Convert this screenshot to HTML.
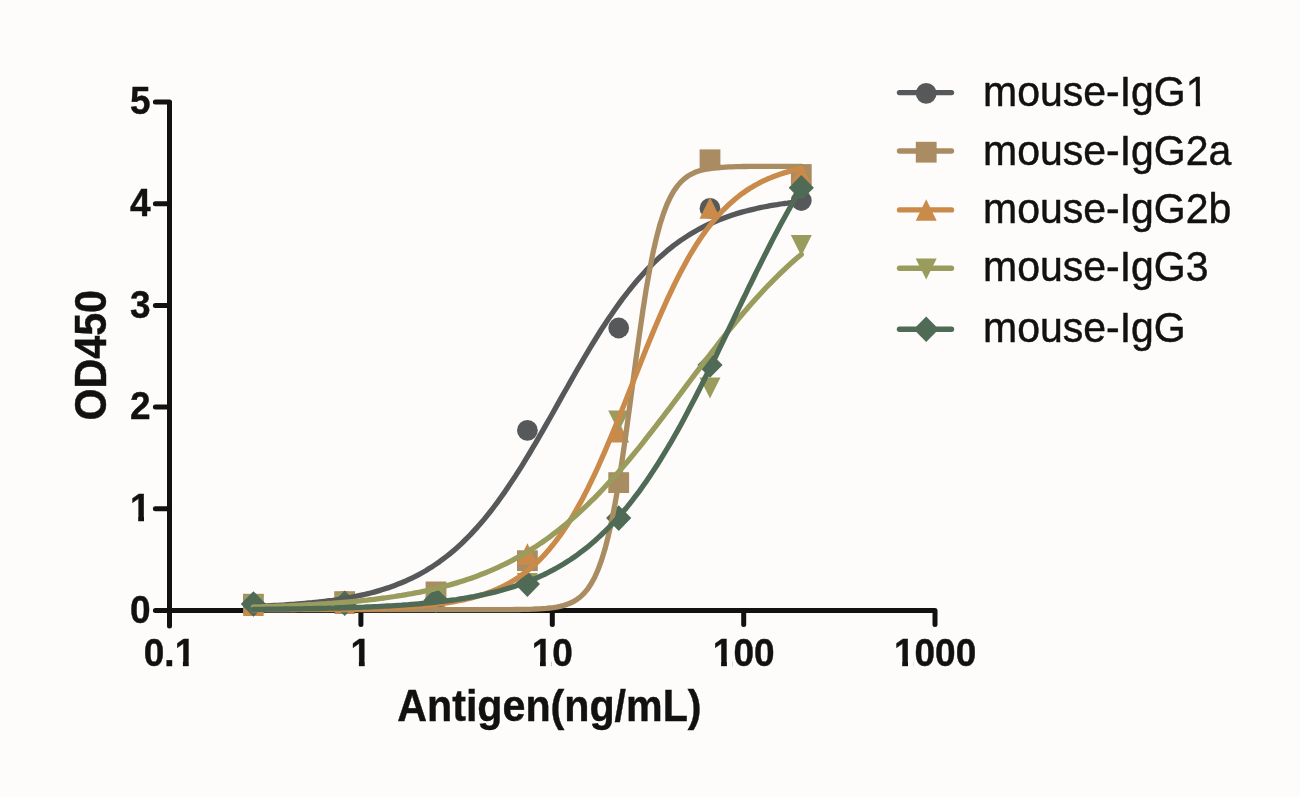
<!DOCTYPE html>
<html><head><meta charset="utf-8"><title>ELISA chart</title>
<style>
html,body{margin:0;padding:0;background:#fdfcfa;}
body{width:1300px;height:797px;overflow:hidden;}
svg{display:block;}
text{font-family:"Liberation Sans",Arial,Helvetica,sans-serif;fill:#111;}
.tk text,.ti{stroke:#111;stroke-width:0.4px;}
.lg{stroke:#111;stroke-width:0.45px;}
text{font-kerning:none;}
.tk text{font-size:37px;font-weight:bold;}
.ti{font-size:41.2px;font-weight:bold;}
.lg{font-size:41px;}
</style></head><body>
<svg width="1300" height="797" viewBox="0 0 1300 797">
<rect width="1300" height="797" fill="#fdfcfa"/>
<defs>
<clipPath id="c1e" clipPathUnits="userSpaceOnUse"><rect x="-120" y="-45" width="240" height="40.12"/><rect x="-12.29" y="-5.08" width="5.78" height="6.38"/></clipPath>
<clipPath id="c01" clipPathUnits="userSpaceOnUse"><rect x="-120" y="-45" width="240" height="40.12"/><rect x="13.43" y="-5.08" width="5.78" height="6.38"/><rect x="-26.72" y="-5.08" width="33.19" height="7.88"/></clipPath>
<clipPath id="c1" clipPathUnits="userSpaceOnUse"><rect x="-120" y="-45" width="240" height="40.12"/><rect x="-2.00" y="-5.08" width="5.78" height="6.38"/></clipPath>
<clipPath id="c10" clipPathUnits="userSpaceOnUse"><rect x="-120" y="-45" width="240" height="40.12"/><rect x="-12.29" y="-5.08" width="5.78" height="6.38"/><rect x="-0.63" y="-5.08" width="22.21" height="7.88"/></clipPath>
<clipPath id="c100" clipPathUnits="userSpaceOnUse"><rect x="-120" y="-45" width="240" height="40.12"/><rect x="-22.58" y="-5.08" width="5.78" height="6.38"/><rect x="-10.92" y="-5.08" width="42.79" height="7.88"/></clipPath>
<clipPath id="c1000" clipPathUnits="userSpaceOnUse"><rect x="-120" y="-45" width="240" height="40.12"/><rect x="-32.87" y="-5.08" width="5.78" height="6.38"/><rect x="-21.21" y="-5.08" width="63.36" height="7.88"/></clipPath>
<clipPath id="cl1" clipPathUnits="userSpaceOnUse"><rect x="-5" y="-45" width="270" height="40.64"/><rect x="212.76" y="-4.56" width="4.32" height="5.86"/><rect x="-5" y="-4.56" width="209.92" height="18.36"/></clipPath>
</defs>
<g id="axes" stroke="#111" stroke-width="5" stroke-linecap="round" stroke-linejoin="round" fill="none">
<path d="M155.4 102.0H169.5V626M155.4 610.5H935V624.4"/>
<path d="M155.4 508.8H169.5"/>
<path d="M155.4 407.1H169.5"/>
<path d="M155.4 305.4H169.5"/>
<path d="M155.4 203.7H169.5"/>
<path d="M360.9 610.5V624.4"/>
<path d="M552.3 610.5V624.4"/>
<path d="M743.7 610.5V624.4"/>
</g>
<g class="tk">
<text transform="translate(150.5 622.6) scale(1 1.03)" text-anchor="end">0</text>
<text transform="translate(150.5 520.9) scale(1 1.03)" text-anchor="end" clip-path="url(#c1e)">1</text>
<text transform="translate(150.5 419.2) scale(1 1.03)" text-anchor="end">2</text>
<text transform="translate(150.5 317.5) scale(1 1.03)" text-anchor="end">3</text>
<text transform="translate(150.5 215.8) scale(1 1.03)" text-anchor="end">4</text>
<text transform="translate(150.5 114.1) scale(1 1.03)" text-anchor="end">5</text>
<text transform="translate(169.5 665.5) scale(1 1.03)" text-anchor="middle" clip-path="url(#c01)">0.1</text>
<text transform="translate(360.9 665.5) scale(1 1.03)" text-anchor="middle" clip-path="url(#c1)">1</text>
<text transform="translate(552.3 665.5) scale(1 1.03)" text-anchor="middle" clip-path="url(#c10)">10</text>
<text transform="translate(743.7 665.5) scale(1 1.03)" text-anchor="middle" clip-path="url(#c100)">100</text>
<text transform="translate(935.1 665.5) scale(1 1.03)" text-anchor="middle" clip-path="url(#c1000)">1000</text>
</g>
<text class="ti" transform="translate(549.4 720.7) scale(1 1.097)" text-anchor="middle">Antigen(ng/mL)</text>
<text class="ti" transform="translate(105.6 355.3) rotate(-90) scale(1 1.06)" text-anchor="middle">OD450</text>
<g id="symbols">
<circle cx="801.3" cy="200.5" r="10.4" fill="#56585a"/>
<circle cx="710.0" cy="208.4" r="10.4" fill="#56585a"/>
<circle cx="618.7" cy="328.0" r="10.4" fill="#56585a"/>
<circle cx="527.4" cy="430.3" r="10.4" fill="#56585a"/>
<circle cx="436.0" cy="598.3" r="10.4" fill="#56585a"/>
<circle cx="344.7" cy="601.3" r="10.4" fill="#56585a"/>
<circle cx="253.4" cy="604.4" r="10.4" fill="#56585a"/>
<rect x="790.9" y="164.1" width="20.8" height="20.8" fill="#a98c62"/>
<rect x="699.6" y="149.4" width="20.8" height="20.8" fill="#a98c62"/>
<rect x="608.3" y="472.2" width="20.8" height="20.8" fill="#a98c62"/>
<rect x="517.0" y="550.3" width="20.8" height="20.8" fill="#a98c62"/>
<rect x="425.6" y="581.5" width="20.8" height="20.8" fill="#a98c62"/>
<rect x="334.3" y="591.2" width="20.8" height="20.8" fill="#a98c62"/>
<rect x="243.0" y="593.8" width="20.8" height="20.8" fill="#a98c62"/>
<path d="M801.3 163.4L811.8 184.8L790.8 184.8Z" fill="#c98a4a"/>
<path d="M710.0 197.3L720.5 218.7L699.5 218.7Z" fill="#c98a4a"/>
<path d="M618.7 421.2L629.2 442.6L608.2 442.6Z" fill="#c98a4a"/>
<path d="M527.4 543.3L537.9 564.7L516.9 564.7Z" fill="#c98a4a"/>
<path d="M436.0 587.5L446.5 608.9L425.5 608.9Z" fill="#c98a4a"/>
<path d="M344.7 592.6L355.2 614.0L334.2 614.0Z" fill="#c98a4a"/>
<path d="M253.4 594.6L263.9 616.0L242.9 616.0Z" fill="#c98a4a"/>
<path d="M801.3 256.0L811.8 235.0L790.8 235.0Z" fill="#9a9c5e"/>
<path d="M710.0 398.4L720.5 377.4L699.5 377.4Z" fill="#9a9c5e"/>
<path d="M618.7 431.6L629.2 410.6L608.2 410.6Z" fill="#9a9c5e"/>
<path d="M527.4 594.0L537.9 573.0L516.9 573.0Z" fill="#9a9c5e"/>
<path d="M436.0 610.9L446.5 589.9L425.5 589.9Z" fill="#9a9c5e"/>
<path d="M344.7 614.0L355.2 593.0L334.2 593.0Z" fill="#9a9c5e"/>
<path d="M253.4 616.0L263.9 595.0L242.9 595.0Z" fill="#9a9c5e"/>
<path d="M801.3 175.0L813.9 187.8L801.3 200.6L788.7 187.8Z" fill="#4f6b56"/>
<path d="M710.0 352.2L722.6 365.0L710.0 377.8L697.4 365.0Z" fill="#4f6b56"/>
<path d="M618.7 505.3L631.3 518.1L618.7 530.9L606.1 518.1Z" fill="#4f6b56"/>
<path d="M527.4 571.3L540.0 584.1L527.4 596.9L514.8 584.1Z" fill="#4f6b56"/>
<path d="M436.0 587.5L448.6 600.3L436.0 613.1L423.4 600.3Z" fill="#4f6b56"/>
<path d="M344.7 590.4L357.3 603.2L344.7 616.0L332.1 603.2Z" fill="#4f6b56"/>
<path d="M253.4 591.2L266.0 604.0L253.4 616.8L240.8 604.0Z" fill="#4f6b56"/>
</g>
<g id="curves" fill="none" stroke-width="5.3" stroke-linecap="round" stroke-linejoin="round">
<path d="M253.4 606.3L256.8 606.2L260.3 606.1L263.7 605.9L267.2 605.8L270.6 605.6L274.1 605.4L277.5 605.3L281.0 605.1L284.4 604.9L287.9 604.6L291.3 604.4L294.7 604.2L298.2 603.9L301.6 603.6L305.1 603.3L308.5 603.0L312.0 602.7L315.4 602.3L318.9 602.0L322.3 601.6L325.8 601.2L329.2 600.7L332.7 600.3L336.1 599.8L339.5 599.2L343.0 598.7L346.4 598.1L349.9 597.5L353.3 596.8L356.8 596.2L360.2 595.4L363.7 594.7L367.1 593.8L370.6 593.0L374.0 592.1L377.4 591.1L380.9 590.1L384.3 589.0L387.8 587.9L391.2 586.7L394.7 585.4L398.1 584.1L401.6 582.7L405.0 581.3L408.5 579.7L411.9 578.1L415.4 576.4L418.8 574.6L422.2 572.7L425.7 570.7L429.1 568.6L432.6 566.4L436.0 564.1L439.5 561.7L442.9 559.2L446.4 556.5L449.8 553.8L453.3 550.9L456.7 547.9L460.2 544.8L463.6 541.5L467.0 538.1L470.5 534.6L473.9 530.9L477.4 527.1L480.8 523.2L484.3 519.1L487.7 514.8L491.2 510.5L494.6 506.0L498.1 501.3L501.5 496.5L505.0 491.6L508.4 486.6L511.8 481.4L515.3 476.2L518.7 470.8L522.2 465.3L525.6 459.7L529.1 454.0L532.5 448.2L536.0 442.3L539.4 436.4L542.9 430.4L546.3 424.4L549.8 418.3L553.2 412.2L556.6 406.1L560.1 399.9L563.5 393.8L567.0 387.7L570.4 381.6L573.9 375.5L577.3 369.5L580.8 363.6L584.2 357.7L587.7 351.9L591.1 346.2L594.6 340.5L598.0 335.0L601.4 329.5L604.9 324.2L608.3 319.0L611.8 313.9L615.2 309.0L618.7 304.1L622.1 299.4L625.6 294.9L629.0 290.5L632.5 286.2L635.9 282.0L639.4 278.0L642.8 274.2L646.2 270.4L649.7 266.9L653.1 263.4L656.6 260.1L660.0 256.9L663.5 253.9L666.9 250.9L670.4 248.1L673.8 245.4L677.3 242.9L680.7 240.4L684.2 238.1L687.6 235.9L691.0 233.7L694.5 231.7L697.9 229.8L701.4 227.9L704.8 226.2L708.3 224.5L711.7 223.0L715.2 221.5L718.6 220.0L722.1 218.7L725.5 217.4L728.9 216.2L732.4 215.0L735.8 213.9L739.3 212.9L742.7 211.9L746.2 211.0L749.6 210.1L753.1 209.3L756.5 208.5L760.0 207.7L763.4 207.0L766.9 206.4L770.3 205.7L773.7 205.1L777.2 204.6L780.6 204.0L784.1 203.5L787.5 203.1L791.0 202.6L794.4 202.2L797.9 201.8L801.3 201.4" stroke="#56585a"/>
<path d="M253.4 609.7L256.8 609.7L260.3 609.7L263.7 609.7L267.2 609.7L270.6 609.7L274.1 609.7L277.5 609.7L281.0 609.7L284.4 609.7L287.9 609.7L291.3 609.7L294.7 609.7L298.2 609.7L301.6 609.7L305.1 609.7L308.5 609.7L312.0 609.7L315.4 609.7L318.9 609.7L322.3 609.7L325.8 609.7L329.2 609.7L332.7 609.7L336.1 609.7L339.5 609.7L343.0 609.7L346.4 609.7L349.9 609.7L353.3 609.7L356.8 609.7L360.2 609.7L363.7 609.7L367.1 609.7L370.6 609.7L374.0 609.7L377.4 609.7L380.9 609.7L384.3 609.7L387.8 609.7L391.2 609.7L394.7 609.7L398.1 609.7L401.6 609.7L405.0 609.7L408.5 609.7L411.9 609.7L415.4 609.7L418.8 609.7L422.2 609.7L425.7 609.7L429.1 609.7L432.6 609.7L436.0 609.7L439.5 609.7L442.9 609.7L446.4 609.7L449.8 609.7L453.3 609.7L456.7 609.7L460.2 609.7L463.6 609.7L467.0 609.7L470.5 609.7L473.9 609.7L477.4 609.7L480.8 609.7L484.3 609.7L487.7 609.7L491.2 609.7L494.6 609.6L498.1 609.6L501.5 609.6L505.0 609.6L508.4 609.6L511.8 609.6L515.3 609.5L518.7 609.5L522.2 609.4L525.6 609.4L529.1 609.3L532.5 609.2L536.0 609.0L539.4 608.9L542.9 608.6L546.3 608.4L549.8 608.0L553.2 607.6L556.6 607.1L560.1 606.4L563.5 605.5L567.0 604.4L570.4 603.0L573.9 601.3L577.3 599.2L580.8 596.5L584.2 593.1L587.7 589.0L591.1 583.8L594.6 577.5L598.0 569.8L601.4 560.5L604.9 549.3L608.3 536.0L611.8 520.5L615.2 502.7L618.7 482.6L622.1 460.4L625.6 436.5L629.0 411.3L632.5 385.4L635.9 359.7L639.4 334.7L642.8 311.0L646.2 289.2L649.7 269.5L653.1 252.2L656.6 237.1L660.0 224.3L663.5 213.5L666.9 204.5L670.4 197.1L673.8 191.0L677.3 186.1L680.7 182.1L684.2 178.9L687.6 176.3L691.0 174.3L694.5 172.6L697.9 171.3L701.4 170.3L704.8 169.4L708.3 168.8L711.7 168.3L715.2 167.9L718.6 167.5L722.1 167.3L725.5 167.1L728.9 166.9L732.4 166.8L735.8 166.7L739.3 166.6L742.7 166.5L746.2 166.5L749.6 166.4L753.1 166.4L756.5 166.4L760.0 166.4L763.4 166.3L766.9 166.3L770.3 166.3L773.7 166.3L777.2 166.3L780.6 166.3L784.1 166.3L787.5 166.3L791.0 166.3L794.4 166.3L797.9 166.3L801.3 166.3" stroke="#a98c62"/>
<path d="M253.4 609.6L256.8 609.6L260.3 609.6L263.7 609.6L267.2 609.6L270.6 609.6L274.1 609.5L277.5 609.5L281.0 609.5L284.4 609.5L287.9 609.5L291.3 609.5L294.7 609.5L298.2 609.4L301.6 609.4L305.1 609.4L308.5 609.4L312.0 609.4L315.4 609.3L318.9 609.3L322.3 609.3L325.8 609.2L329.2 609.2L332.7 609.2L336.1 609.1L339.5 609.1L343.0 609.0L346.4 609.0L349.9 608.9L353.3 608.8L356.8 608.8L360.2 608.7L363.7 608.6L367.1 608.5L370.6 608.4L374.0 608.3L377.4 608.2L380.9 608.1L384.3 608.0L387.8 607.9L391.2 607.7L394.7 607.6L398.1 607.4L401.6 607.2L405.0 607.0L408.5 606.8L411.9 606.5L415.4 606.3L418.8 606.0L422.2 605.7L425.7 605.4L429.1 605.1L432.6 604.7L436.0 604.3L439.5 603.9L442.9 603.4L446.4 602.9L449.8 602.4L453.3 601.8L456.7 601.2L460.2 600.5L463.6 599.8L467.0 599.0L470.5 598.2L473.9 597.3L477.4 596.3L480.8 595.2L484.3 594.1L487.7 592.9L491.2 591.6L494.6 590.2L498.1 588.7L501.5 587.1L505.0 585.4L508.4 583.5L511.8 581.6L515.3 579.4L518.7 577.2L522.2 574.7L525.6 572.2L529.1 569.4L532.5 566.5L536.0 563.3L539.4 560.0L542.9 556.5L546.3 552.7L549.8 548.7L553.2 544.5L556.6 540.1L560.1 535.4L563.5 530.5L567.0 525.3L570.4 519.8L573.9 514.1L577.3 508.1L580.8 501.9L584.2 495.4L587.7 488.6L591.1 481.6L594.6 474.4L598.0 467.0L601.4 459.3L604.9 451.4L608.3 443.3L611.8 435.1L615.2 426.7L618.7 418.2L622.1 409.6L625.6 401.0L629.0 392.2L632.5 383.5L635.9 374.7L639.4 366.0L642.8 357.4L646.2 348.8L649.7 340.3L653.1 331.9L656.6 323.7L660.0 315.7L663.5 307.9L666.9 300.2L670.4 292.8L673.8 285.6L677.3 278.6L680.7 271.9L684.2 265.5L687.6 259.3L691.0 253.3L694.5 247.6L697.9 242.2L701.4 237.1L704.8 232.2L708.3 227.5L711.7 223.1L715.2 218.9L718.6 215.0L722.1 211.3L725.5 207.8L728.9 204.5L732.4 201.4L735.8 198.5L739.3 195.7L742.7 193.2L746.2 190.8L749.6 188.5L753.1 186.4L756.5 184.5L760.0 182.6L763.4 180.9L766.9 179.3L770.3 177.9L773.7 176.5L777.2 175.2L780.6 174.0L784.1 172.9L787.5 171.9L791.0 170.9L794.4 170.0L797.9 169.2L801.3 168.4" stroke="#c98a4a"/>
<path d="M253.4 607.0L256.8 606.9L260.3 606.8L263.7 606.7L267.2 606.6L270.6 606.4L274.1 606.3L277.5 606.2L281.0 606.1L284.4 605.9L287.9 605.8L291.3 605.6L294.7 605.5L298.2 605.3L301.6 605.1L305.1 604.9L308.5 604.7L312.0 604.6L315.4 604.3L318.9 604.1L322.3 603.9L325.8 603.7L329.2 603.4L332.7 603.2L336.1 602.9L339.5 602.7L343.0 602.4L346.4 602.1L349.9 601.8L353.3 601.5L356.8 601.1L360.2 600.8L363.7 600.4L367.1 600.1L370.6 599.7L374.0 599.3L377.4 598.8L380.9 598.4L384.3 598.0L387.8 597.5L391.2 597.0L394.7 596.5L398.1 595.9L401.6 595.4L405.0 594.8L408.5 594.2L411.9 593.6L415.4 592.9L418.8 592.3L422.2 591.6L425.7 590.8L429.1 590.1L432.6 589.3L436.0 588.5L439.5 587.6L442.9 586.8L446.4 585.8L449.8 584.9L453.3 583.9L456.7 582.9L460.2 581.8L463.6 580.7L467.0 579.6L470.5 578.4L473.9 577.2L477.4 575.9L480.8 574.6L484.3 573.3L487.7 571.9L491.2 570.4L494.6 568.9L498.1 567.3L501.5 565.7L505.0 564.1L508.4 562.3L511.8 560.6L515.3 558.7L518.7 556.8L522.2 554.8L525.6 552.8L529.1 550.7L532.5 548.6L536.0 546.4L539.4 544.1L542.9 541.7L546.3 539.3L549.8 536.8L553.2 534.2L556.6 531.6L560.1 528.9L563.5 526.1L567.0 523.3L570.4 520.3L573.9 517.3L577.3 514.3L580.8 511.1L584.2 507.9L587.7 504.6L591.1 501.2L594.6 497.8L598.0 494.3L601.4 490.7L604.9 487.0L608.3 483.3L611.8 479.5L615.2 475.7L618.7 471.8L622.1 467.8L625.6 463.8L629.0 459.7L632.5 455.5L635.9 451.3L639.4 447.1L642.8 442.8L646.2 438.4L649.7 434.0L653.1 429.6L656.6 425.1L660.0 420.7L663.5 416.1L666.9 411.6L670.4 407.1L673.8 402.5L677.3 397.9L680.7 393.3L684.2 388.7L687.6 384.1L691.0 379.5L694.5 374.9L697.9 370.4L701.4 365.8L704.8 361.3L708.3 356.8L711.7 352.3L715.2 347.8L718.6 343.4L722.1 339.0L725.5 334.7L728.9 330.4L732.4 326.2L735.8 322.0L739.3 317.8L742.7 313.7L746.2 309.7L749.6 305.7L753.1 301.8L756.5 298.0L760.0 294.2L763.4 290.5L766.9 286.8L770.3 283.3L773.7 279.8L777.2 276.3L780.6 273.0L784.1 269.7L787.5 266.5L791.0 263.3L794.4 260.3L797.9 257.3L801.3 254.4" stroke="#9a9c5e"/>
<path d="M253.4 609.4L256.8 609.3L260.3 609.3L263.7 609.3L267.2 609.2L270.6 609.2L274.1 609.2L277.5 609.1L281.0 609.1L284.4 609.0L287.9 609.0L291.3 608.9L294.7 608.9L298.2 608.8L301.6 608.8L305.1 608.7L308.5 608.7L312.0 608.6L315.4 608.5L318.9 608.5L322.3 608.4L325.8 608.3L329.2 608.2L332.7 608.2L336.1 608.1L339.5 608.0L343.0 607.9L346.4 607.8L349.9 607.7L353.3 607.5L356.8 607.4L360.2 607.3L363.7 607.2L367.1 607.0L370.6 606.9L374.0 606.7L377.4 606.6L380.9 606.4L384.3 606.2L387.8 606.0L391.2 605.8L394.7 605.6L398.1 605.4L401.6 605.2L405.0 604.9L408.5 604.7L411.9 604.4L415.4 604.1L418.8 603.8L422.2 603.5L425.7 603.2L429.1 602.9L432.6 602.5L436.0 602.1L439.5 601.7L442.9 601.3L446.4 600.9L449.8 600.4L453.3 600.0L456.7 599.5L460.2 598.9L463.6 598.4L467.0 597.8L470.5 597.2L473.9 596.6L477.4 595.9L480.8 595.2L484.3 594.5L487.7 593.7L491.2 592.9L494.6 592.1L498.1 591.2L501.5 590.3L505.0 589.3L508.4 588.3L511.8 587.2L515.3 586.1L518.7 584.9L522.2 583.7L525.6 582.5L529.1 581.1L532.5 579.7L536.0 578.3L539.4 576.7L542.9 575.1L546.3 573.5L549.8 571.7L553.2 569.9L556.6 568.0L560.1 566.0L563.5 564.0L567.0 561.8L570.4 559.6L573.9 557.2L577.3 554.8L580.8 552.2L584.2 549.6L587.7 546.9L591.1 544.0L594.6 541.0L598.0 537.9L601.4 534.7L604.9 531.4L608.3 528.0L611.8 524.4L615.2 520.7L618.7 516.9L622.1 512.9L625.6 508.8L629.0 504.6L632.5 500.2L635.9 495.7L639.4 491.1L642.8 486.3L646.2 481.4L649.7 476.3L653.1 471.1L656.6 465.8L660.0 460.3L663.5 454.7L666.9 449.0L670.4 443.2L673.8 437.2L677.3 431.1L680.7 424.9L684.2 418.5L687.6 412.1L691.0 405.6L694.5 398.9L697.9 392.2L701.4 385.4L704.8 378.5L708.3 371.5L711.7 364.5L715.2 357.5L718.6 350.3L722.1 343.2L725.5 336.0L728.9 328.8L732.4 321.6L735.8 314.4L739.3 307.2L742.7 300.0L746.2 292.9L749.6 285.7L753.1 278.7L756.5 271.6L760.0 264.7L763.4 257.8L766.9 251.0L770.3 244.2L773.7 237.6L777.2 231.0L780.6 224.5L784.1 218.2L787.5 212.0L791.0 205.8L794.4 199.8L797.9 194.0L801.3 188.2" stroke="#4f6b56"/>
</g>
<g id="legend">
<line x1="899.5" y1="92.6" x2="951.5" y2="92.6" stroke="#56585a" stroke-width="5.4" stroke-linecap="round"/>
<circle cx="926.2" cy="93.3" r="10.4" fill="#56585a"/>
<text transform="translate(983 106.2) scale(1 1.055)" class="lg" clip-path="url(#cl1)">mouse-IgG1</text>
<line x1="899.5" y1="151.0" x2="951.5" y2="151.0" stroke="#a98c62" stroke-width="5.4" stroke-linecap="round"/>
<rect x="915.8" y="141.8" width="20.8" height="20.8" fill="#a98c62"/>
<text transform="translate(983 164.6) scale(1 1.055)" class="lg">mouse-IgG2a</text>
<line x1="899.5" y1="209.9" x2="951.5" y2="209.9" stroke="#c98a4a" stroke-width="5.4" stroke-linecap="round"/>
<path d="M926.2 199.3L936.7 220.7L915.7 220.7Z" fill="#c98a4a"/>
<text transform="translate(983 223.0) scale(1 1.055)" class="lg">mouse-IgG2b</text>
<line x1="899.5" y1="268.3" x2="951.5" y2="268.3" stroke="#9a9c5e" stroke-width="5.4" stroke-linecap="round"/>
<path d="M926.2 279.4L936.7 258.4L915.7 258.4Z" fill="#9a9c5e"/>
<text transform="translate(983 280.8) scale(1 1.055)" class="lg">mouse-IgG3</text>
<line x1="899.5" y1="329.2" x2="951.5" y2="329.2" stroke="#4f6b56" stroke-width="5.4" stroke-linecap="round"/>
<path d="M926.2 316.4L938.8 329.2L926.2 342.0L913.6 329.2Z" fill="#4f6b56"/>
<text transform="translate(983 341.6) scale(1 1.055)" class="lg">mouse-IgG</text>
</g>
</svg>
</body></html>
